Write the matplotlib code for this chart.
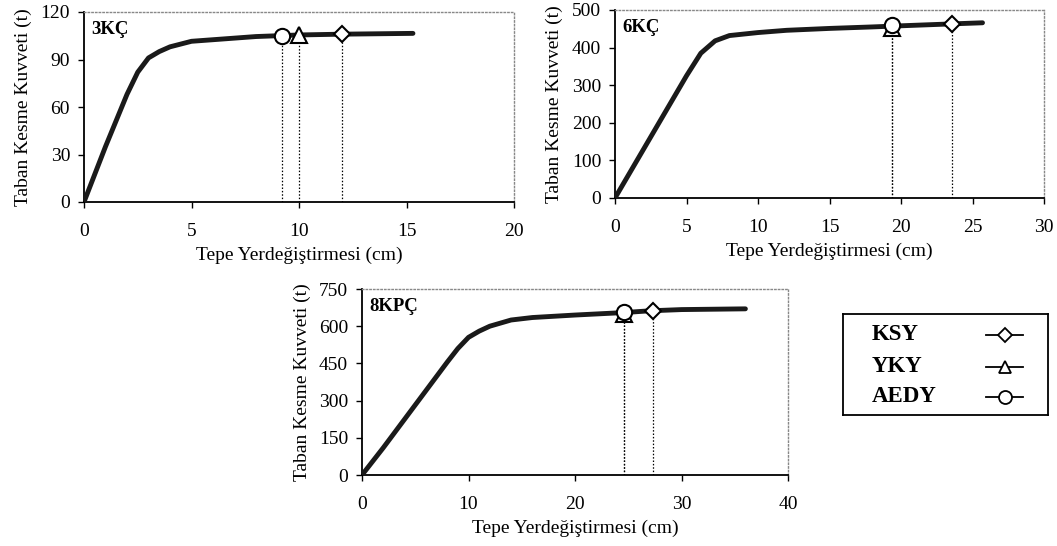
import numpy as np
import matplotlib
matplotlib.use('Agg')
import matplotlib.pyplot as plt

plt.rcParams['font.family'] = ['Liberation Serif', 'DejaVu Serif']

W, H = 1057, 546

# 3KC
x_3k = [0, 1, 2, 2.5, 3, 3.5, 4, 5, 6, 7, 8, 9, 10, 12, 15.3]
y_3k = [0, 35, 68, 82, 91, 95, 98, 101.5, 102.5, 103.5, 104.5, 105, 105.5, 106, 106.5]
pts_3k = {'KSY': (12.0, 106), 'YKY': (10.0, 105.3), 'AEDY': (9.2, 105)}

# 6KC
x_6k = [0, 1, 2, 3, 4, 5, 6, 7, 8, 10, 12, 15, 18, 20, 23.5, 25.7]
y_6k = [0, 65, 130, 195, 260, 325, 385, 418, 432, 440, 446, 451, 455, 458, 463, 466]
pts_6k = {'KSY': (23.6, 464), 'YKY': (19.4, 452), 'AEDY': (19.4, 459)}

# 8KPC
x_8k = [0, 2, 4, 6, 8, 9, 10, 11, 12, 14, 16, 20, 24.6, 27, 30, 36]
y_8k = [0, 110, 225, 340, 455, 510, 555, 580, 600, 625, 635, 645, 655, 662, 667, 670]
pts_8k = {'KSY': (27.3, 662), 'YKY': (24.6, 648), 'AEDY': (24.6, 657)}

markers = {'KSY': ('D', 8.5), 'YKY': ('^', 11), 'AEDY': ('o', 11)}
order = ['KSY', 'YKY', 'AEDY']

panels = [
    ('3KÇ', x_3k, y_3k, pts_3k, (84, 514, 12, 202), 20, [0, 5, 10, 15, 20], 120, [0, 30, 60, 90, 120]),
    ('6KÇ', x_6k, y_6k, pts_6k, (615, 1044, 10, 198), 30, [0, 5, 10, 15, 20, 25, 30], 500, [0, 100, 200, 300, 400, 500]),
    ('8KPÇ', x_8k, y_8k, pts_8k, (362, 788, 289, 475), 40, [0, 10, 20, 30, 40], 750, [0, 150, 300, 450, 600, 750]),
]

fig = plt.figure(figsize=(W / 100, H / 100), dpi=100)

for name, xs, ys, pts, (l, r, t, b), xmax, xt, ymax, yt in panels:
    ax = fig.add_axes([l / W, (H - b) / H, (r - l) / W, (b - t) / H])
    ax.set_xlim(0, xmax)
    ax.set_ylim(0, ymax)
    ax.set_xticks(xt)
    ax.set_yticks(yt)
    ax.tick_params(labelsize=14, length=4, width=1, direction='out', pad=6)
    ax.tick_params(axis='x', pad=11)
    for s in ['top', 'right']:
        ax.spines[s].set_color('#888888')
        ax.spines[s].set_linestyle(':')
        ax.spines[s].set_linewidth(1.0)
    for s in ['left', 'bottom']:
        ax.spines[s].set_linewidth(1.3)
    # dotted drop lines
    for key in order:
        px, py = pts[key]
        ax.plot([px, px], [0, py], color='black', lw=0.9, ls=(0, (1.2, 1.5)), zorder=2)
    ax.plot(xs, ys, color='#1a1a1a', lw=3.5, solid_capstyle='round', zorder=3)
    for key in ['YKY', 'KSY', 'AEDY']:
        px, py = pts[key]
        m, ms = markers[key]
        ax.plot(px, py, marker=m, ms=ms, mfc='white', mec='black', mew=1.5, zorder=4, clip_on=False)
    ax.text(0.018, 0.95, name, transform=ax.transAxes, fontsize=13.5, fontweight='bold', va='top', ha='left')
    ax.set_xlabel('Tepe Yerdeğiştirmesi (cm)', fontsize=14, labelpad=5)
    ax.set_ylabel('Taban Kesme Kuvveti (t)', fontsize=14, labelpad=6)

# legend box built by hand (text left, sample line right)
lg = fig.add_axes([843 / W, (H - 415) / H, (1048 - 843) / W, (415 - 314) / H])
lg.set_xlim(843, 1048)
lg.set_ylim(415, 314)
lg.set_xticks([])
lg.set_yticks([])
for s in lg.spines.values():
    s.set_linewidth(1.3)
row_y = [335, 367, 397]
for key, yy in zip(order, row_y):
    m, ms = markers[key]
    lg.text(872, yy, key, fontsize=16.5, fontweight='bold', va='center', ha='left')
    lg.plot([986, 1023], [yy, yy], color='black', lw=1.3)
    lg.plot([1004.5], [yy], marker=m, ms=ms * 0.85, mfc='white', mec='black', mew=1.3)

fig.savefig('out.png', dpi=100)
